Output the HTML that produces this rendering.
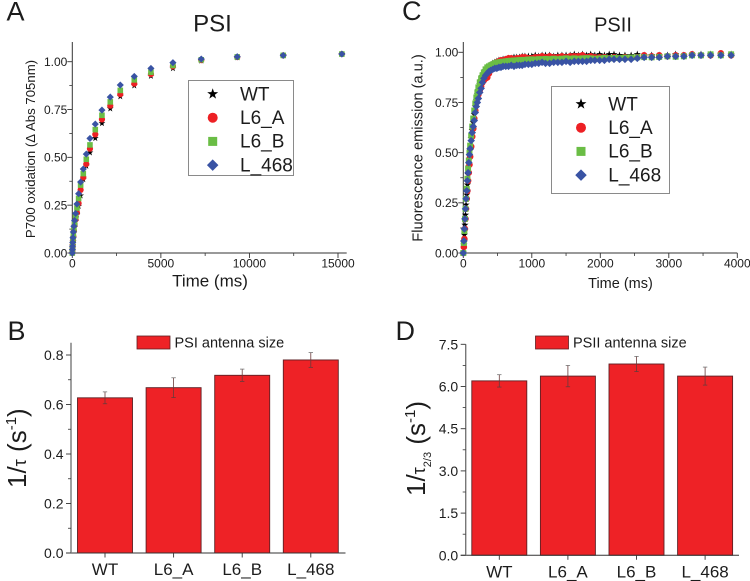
<!DOCTYPE html>
<html lang="en">
<head>
<meta charset="utf-8">
<title>PSI and PSII antenna size</title>
<style>
html,body{margin:0;padding:0;background:#fff;}
svg{display:block;font-family:"Liberation Sans",Arial,sans-serif;fill:#1c1c1c;filter:blur(0.3px);}
</style>
</head>
<body>
<svg id="figure" width="750" height="581" viewBox="0 0 750 581" xmlns="http://www.w3.org/2000/svg">
<rect width="750" height="581" fill="#fff"/>
</svg>
<script>
const seriesNames = ['WT', 'L6_A', 'L6_B', 'L_468'];
const seriesColors = ['#000000', '#ed2024', '#6abd45', '#3953a4'];
const seriesShapes = ['star', 'circle', 'square', 'diamond'];

const psiTimes = [0,8,15,25,40,60,90,130,188,263,357,470,621,790,997,1298,1674,2144,2709,3499,4439,5681,7280,9311,11907,15218];
const psiWT = [0,.012,.025,.04,.06,.08,.105,.135,.165,.20,.245,.30,.385,.455,.525,.60,.678,.755,.818,.875,.925,.965,1.005,1.022,1.033,1.04];
const psiL6A = [0,.013,.027,.043,.065,.085,.115,.145,.175,.21,.26,.33,.395,.465,.545,.62,.698,.77,.83,.885,.935,.975,1.008,1.024,1.033,1.04];
const psiL6B = [0,.015,.03,.05,.07,.095,.125,.155,.19,.235,.285,.355,.415,.49,.565,.645,.72,.79,.85,.905,.945,.98,1.01,1.025,1.033,1.04];
const psiL468 = [0,.018,.035,.055,.08,.11,.14,.17,.207,.256,.31,.371,.439,.517,.599,.674,.747,.815,.878,.923,.965,.995,1.014,1.026,1.033,1.04];

const psiiTimes = [0,8,16,24,32,40,50,60,70,80,
90,100,115,130,145,160,175,190,205,220,
240,260,280,300,325,350,375,400,430,460,
490,520,550,580,620,660,700,740,780,820,
860,900,950,1000,1050,1100,1150,1200,1260,1320,
1380,1440,1500,1560,1620,1680,1740,1800,1860,1920,
1990,2060,2130,2200,2280,2360,2450,2540,2640,2750,
2860,2980,3100,3220,3340,3470,3610,3760,3910];
const psiiWT = [0,.04,.09,.14,.19,.24,.29,.34,.39,.43,
.47,.51,.57,.61,.65,.69,.73,.76,.79,.81,
.84,.86,.88,.895,.91,.92,.93,.935,.945,.95,
.955,.96,.96,.965,.965,.97,.97,.975,.975,.975,
.98,.98,.98,.98,.985,.98,.985,.985,.985,.98,
.985,.985,.985,.985,.99,.985,.99,.985,.99,.985,
.99,.985,.99,.99,.985,.985,.985,.99,.985,.985,
.985,.985,.99,.985,.99,.99,.99,.99,.99];
const psiiL6A = [0,.03,.07,.12,.17,.22,.27,.31,.36,.40,
.44,.48,.53,.58,.62,.67,.71,.75,.78,.79,
.81,.83,.85,.86,.87,.875,.895,.915,.93,.94,
.95,.955,.96,.96,.965,.97,.97,.965,.97,.97,
.975,.975,.97,.97,.975,.975,.98,.975,.98,.975,
.975,.98,.975,.98,.98,.98,.985,.975,.98,.975,
.975,.975,.97,.975,.97,.975,.97,.975,.985,.98,
.985,.98,.985,.985,.99,.985,.985,.995,.985];
const psiiL6B = [0,.05,.11,.17,.22,.27,.32,.37,.42,.46,
.50,.535,.585,.63,.67,.71,.745,.775,.80,.825,
.85,.87,.885,.90,.915,.925,.93,.935,.94,.945,
.948,.95,.952,.953,.955,.957,.958,.959,.96,.961,
.962,.962,.964,.965,.963,.966,.965,.967,.966,.968,
.966,.968,.97,.968,.97,.968,.97,.971,.97,.968,
.97,.972,.97,.972,.971,.973,.974,.975,.976,.975,
.977,.98,.978,.98,.985,.985,.99,.985,.99];
const psiiL468 = [0,.06,.12,.17,.22,.27,.31,.36,.40,.45,
.49,.52,.56,.60,.63,.66,.70,.73,.75,.77,
.80,.82,.85,.87,.885,.895,.905,.91,.915,.92,
.92,.925,.925,.93,.93,.93,.935,.93,.935,.935,
.935,.94,.94,.94,.945,.945,.95,.945,.945,.95,
.95,.95,.955,.95,.955,.955,.955,.955,.96,.96,
.96,.96,.965,.965,.965,.965,.965,.97,.975,.975,
.975,.98,.98,.98,.985,.985,.985,.985,.985];

const barCategories = ['WT', 'L6_A', 'L6_B', 'L_468'];
const psiBarValues = [0.627, 0.668, 0.718, 0.78];
const psiBarErrors = [0.024, 0.04, 0.025, 0.03];
const psiiBarValues = [6.2, 6.37, 6.8, 6.37];
const psiiBarErrors = [0.22, 0.38, 0.27, 0.32];

const psiXTicks = ['0', '5000', '10000', '15000'];
const psiYTicks = ['0.00', '0.25', '0.50', '0.75', '1.00'];
const psiiXTicks = ['0', '1000', '2000', '3000', '4000'];
const psiiYTicks = ['0.00', '0.25', '0.50', '0.75', '1.00'];
const psiBarTicks = ['0.0', '0.2', '0.4', '0.6', '0.8'];
const psiiBarTicks = ['0.0', '1.5', '3.0', '4.5', '6.0', '7.5'];

const NS = 'http://www.w3.org/2000/svg';
const AXIS = '#333';
const svg = document.getElementById('figure');

function el(tag, attrs, parent) {
  const n = document.createElementNS(NS, tag);
  for (const k in attrs) n.setAttribute(k, attrs[k]);
  (parent || svg).appendChild(n);
  return n;
}
function group(parent) {
  return el('g', {}, parent);
}
function linear(d0, d1, r0, r1) {
  return function (v) { return r0 + (v - d0) / (d1 - d0) * (r1 - r0); };
}
function line(parent, x1, y1, x2, y2, stroke, w) {
  return el('line', { x1: x1, y1: y1, x2: x2, y2: y2, stroke: stroke, 'stroke-width': w }, parent);
}
function label(parent, x, y, str, size, anchor) {
  const t = el('text', { x: x, y: y, 'font-size': size, 'text-anchor': anchor || 'start' }, parent);
  t.textContent = str;
  return t;
}
function marker(parent, shape, cx, cy, r, color) {
  if (shape === 'circle') {
    return el('circle', { cx: cx, cy: cy, r: r, fill: color }, parent);
  }
  if (shape === 'square') {
    return el('rect', { x: cx - r * 0.9, y: cy - r * 0.9, width: r * 1.8, height: r * 1.8, fill: color }, parent);
  }
  if (shape === 'diamond') {
    const d = r * 1.15;
    return el('polygon', { points: [cx, cy - d, cx + d, cy, cx, cy + d, cx - d, cy].join(' '), fill: color }, parent);
  }
  const pts = [];
  for (let i = 0; i < 10; i++) {
    const rad = (i % 2 ? 0.45 : 1.15) * r;
    const a = -Math.PI / 2 + i * Math.PI / 5;
    pts.push((cx + rad * Math.cos(a)).toFixed(2) + ',' + (cy + rad * Math.sin(a)).toFixed(2));
  }
  return el('polygon', { points: pts.join(' '), fill: color }, parent);
}

/* Panel letters and titles */
const panelLetters = [['A', 6.5, 20.5], ['C', 402, 20], ['B', 7.5, 340], ['D', 395.5, 340]];
panelLetters.forEach(function (p) {
  const t = label(svg, p[1], p[2], p[0], 27);
  
  
});
const titleA = label(svg, 212.5, 31.5, 'PSI', 24, 'middle');


const titleC = label(svg, 613, 31.5, 'PSII', 20, 'middle');



/* Scatter panels */
function scatterPanel(cfg) {
  const root = group();
  
  
  const x = linear(0, cfg.xMax, cfg.x0, cfg.x1);
  const y = linear(0, cfg.yRef, cfg.y0, cfg.yRefPx);

  const xAxis = group(root);
  
  
  line(xAxis, cfg.x0 - 0.5, cfg.y0, cfg.xEnd, cfg.y0, AXIS, 1);
  cfg.xTicks.forEach(function (tk, i) {
    const px = x(Number(tk));
    line(xAxis, px, cfg.y0, px, cfg.y0 + 5, AXIS, 0.9);
    label(xAxis, px, cfg.y0 + 14.7, tk, 12, 'middle');
    if (i < cfg.xTicks.length - 1) {
      const mid = x((Number(tk) + Number(cfg.xTicks[i + 1])) / 2);
      line(xAxis, mid, cfg.y0, mid, cfg.y0 + 3, AXIS, 0.8);
    }
  });
  const yAxis = group(root);
  
  
  line(yAxis, cfg.x0, cfg.y0 + 0.5, cfg.x0, cfg.yTop, AXIS, 1);
  cfg.yTicks.forEach(function (tk, i) {
    const py = y(Number(tk));
    line(yAxis, cfg.x0, py, cfg.x0 - 5, py, AXIS, 0.9);
    label(yAxis, cfg.x0 - 5, py + 4.3, tk, 12, 'end');
    if (i < cfg.yTicks.length - 1) {
      const mid = y((Number(tk) + Number(cfg.yTicks[i + 1])) / 2);
      line(yAxis, cfg.x0, mid, cfg.x0 - 3, mid, AXIS, 0.8);
    }
  });
  const xt = label(root, cfg.xTitleX, cfg.xTitleY, 'Time (ms)', cfg.xTitleSize, 'middle');
  
  

  cfg.series.forEach(function (vals, s) {
    const g = group(root);
    
    
    vals.forEach(function (v, i) {
      const m = marker(g, seriesShapes[s], x(cfg.times[i]), y(v), cfg.markerR, seriesColors[s]);
      
      
    });
  });

  const lg = group(root);
  
  
  el('rect', { x: cfg.legend.x, y: cfg.legend.y, width: cfg.legend.w, height: cfg.legend.h, fill: '#fff', stroke: '#8a8a8a', 'stroke-width': 1 }, lg);
  seriesNames.forEach(function (n, i) {
    const row = group(lg);
    
    
    const my = cfg.legend.my + i * cfg.legend.step;
    marker(row, seriesShapes[i], cfg.legend.mx, my, 5, seriesColors[i]);
    label(row, cfg.legend.tx, my + 6.3, n, 19);
  });
  return root;
}

const panelA = scatterPanel({
  name: 'psi-kinetics-chart', times: psiTimes,
  series: [psiWT, psiL6A, psiL6B, psiL468],
  xMax: 15000, x0: 72.3, x1: 338, xEnd: 346.7,
  yRef: 1, y0: 253, yRefPx: 61.7, yTop: 42,
  xTicks: psiXTicks, yTicks: psiYTicks,
  xTitleX: 210, xTitleY: 286.5, xTitleSize: 17, markerR: 3.1,
  legend: { x: 188.5, y: 80.5, w: 105, h: 95, mx: 212.7, my: 94, step: 23.7, tx: 240 }
});
const panelC = scatterPanel({
  name: 'psii-kinetics-chart', times: psiiTimes,
  series: [psiiWT, psiiL6A, psiiL6B, psiiL468],
  xMax: 4000, x0: 463.3, x1: 737.3, xEnd: 737.3,
  yRef: 1, y0: 253, yRefPx: 52.3, yTop: 42,
  xTicks: psiiXTicks, yTicks: psiiYTicks,
  xTitleX: 620.5, xTitleY: 288, xTitleSize: 14.5, markerR: 3.3,
  legend: { x: 551.5, y: 86.5, w: 118, h: 107, mx: 581, my: 104, step: 23.7, tx: 608.3 }
});

const ytA = el('text', { transform: 'translate(35 149) rotate(-90)', 'text-anchor': 'middle', 'font-size': 13.2 }, panelA);


ytA.textContent = 'P700 oxidation (Δ Abs 705nm)';

const ytC = el('text', { transform: 'translate(422.7 148) rotate(-90)', 'text-anchor': 'middle', 'font-size': 14.6 }, panelC);


ytC.textContent = 'Fluorescence emission (a.u.)';

/* Bar panels */
function barPanel(cfg) {
  const root = group();
  
  
  const y = linear(0, cfg.yMax, cfg.y0, cfg.yMaxPx);
  const band = cfg.barStep;

  const bars = group(root);
  
  
  cfg.values.forEach(function (v, i) {
    const cx = cfg.firstCenter + i * band;
    const b = el('rect', { x: cx - cfg.barW / 2, y: y(v), width: cfg.barW, height: cfg.y0 - y(v), fill: '#ee2226', stroke: '#5e2024', 'stroke-width': 0.9 }, bars);
    
    
    const e = group(bars);
    
    
    const top = y(v + cfg.errors[i]);
    const bot = y(v - cfg.errors[i]);
    line(e, cx, top, cx, bot, '#6a3a3a', 0.8);
    line(e, cx - 2.2, top, cx + 2.2, top, '#777', 0.8);
    line(e, cx - 2.2, bot, cx + 2.2, bot, '#6a3a3a', 0.8);
  });

  const xAxis = group(root);
  
  
  line(xAxis, cfg.x0 - 5, cfg.y0, cfg.xEnd, cfg.y0, AXIS, 1);
  barCategories.forEach(function (c, i) {
    const cx = cfg.firstCenter + i * band;
    line(xAxis, cx, cfg.y0, cx, cfg.y0 + 4.5, AXIS, 0.9);
    label(xAxis, cx, cfg.y0 + 22, c, 17, 'middle');
  });

  const yAxis = group(root);
  
  
  line(yAxis, cfg.x0, cfg.y0, cfg.x0, cfg.yTop, '#777', 1.4);
  cfg.yTicks.forEach(function (tk, i) {
    const py = y(Number(tk));
    line(yAxis, cfg.x0, py, cfg.x0 - 5, py, AXIS, 0.9);
    label(yAxis, cfg.x0 - 7.5, py + 5, tk, 14, 'end');
    if (i < cfg.yTicks.length - 1) {
      const mid = y((Number(tk) + Number(cfg.yTicks[i + 1])) / 2);
      line(yAxis, cfg.x0, mid, cfg.x0 - 3, mid, AXIS, 0.8);
    }
  });

  const lg = group(root);
  
  
  el('rect', { x: cfg.legendX, y: 336, width: 33, height: 13, fill: '#ee2226', stroke: '#5e2024', 'stroke-width': 0.8 }, lg);
  label(lg, cfg.legendX + 37.5, 347.7, cfg.legendText, 14.5);
  return root;
}

const panelB = barPanel({
  name: 'psi-antenna-size-chart', values: psiBarValues, errors: psiBarErrors,
  yMax: 0.8, y0: 553, yMaxPx: 355, yTop: 342.7, x0: 71, xEnd: 345.5,
  firstCenter: 105, barStep: 68.6, barW: 55, yTicks: psiBarTicks,
  legendX: 137, legendText: 'PSI antenna size'
});
const panelD = barPanel({
  name: 'psii-antenna-size-chart', values: psiiBarValues, errors: psiiBarErrors,
  yMax: 7.5, y0: 555.3, yMaxPx: 344.3, yTop: 344.3, x0: 465.7, xEnd: 739,
  firstCenter: 499.3, barStep: 68.6, barW: 55, yTicks: psiiBarTicks,
  legendX: 535.5, legendText: 'PSII antenna size'
});

function span(parent, str, size, dy) {
  const s = el('tspan', { 'font-size': size }, parent);
  if (dy) s.setAttribute('dy', dy);
  s.textContent = str;
  return s;
}
const ytB = el('text', { transform: 'translate(26 488) rotate(-90)', 'font-size': 26 }, panelB);


span(ytB, '1/', 26);
span(ytB, 'τ', 18);
span(ytB, ' (s', 26);
span(ytB, '-1', 15, -10);
span(ytB, ')', 26, 10);

const ytD = el('text', { transform: 'translate(425 496) rotate(-90)', 'font-size': 26 }, panelD);


span(ytD, '1/', 26);
span(ytD, 'τ', 18);
span(ytD, '2/3', 11, 6);
span(ytD, ' (s', 26, -6);
span(ytD, '-1', 15, -10);
span(ytD, ')', 26, 10);
</script>
</body>
</html>
